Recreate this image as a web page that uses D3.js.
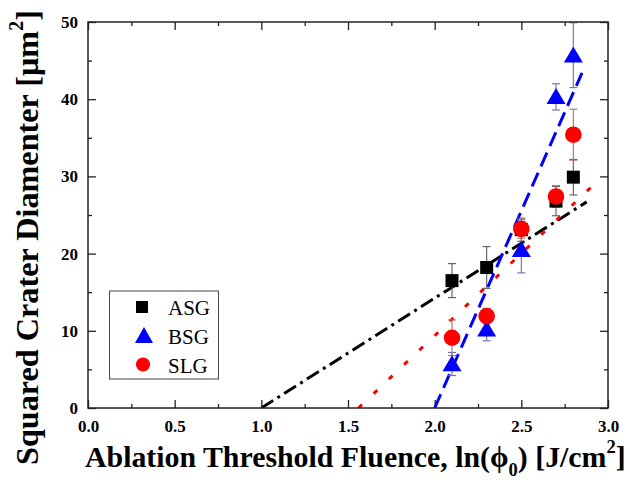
<!DOCTYPE html>
<html>
<head>
<meta charset="utf-8">
<script src="https://cdn.jsdelivr.net/npm/d3@7"></script>
<style>
  html, body { margin: 0; padding: 0; background: #fff; }
  svg { display: block; }
</style>
</head>
<body>
<svg id="chart" width="630" height="480"></svg>
<script>
// Ablation fluence (x) at which each glass was measured
const fluence = [2.1, 2.3, 2.5, 2.7, 2.8];

// Squared crater diameters [µm²] and their error bars
const asgD2  = [16.5, 18.2, 23.1, 26.8, 29.9];
const asgErr = [2.2, 2.7, 1.5, 1.9, 2.3];
const bsgD2  = [5.7, 10.2, 20.5, 40.3, 45.7];
const bsgErr = [1.5, 1.5, 3.0, 1.7, 4.2];
const slgD2  = [9.1, 11.9, 23.2, 27.4, 35.4];
const slgErr = [2.3, 1.0, 1.2, 1.4, 3.3];

// Linear fits: [start, end] points in data units
const asgFit = [[1.0, 0], [2.877, 26.7]];
const bsgFit = [[2.0, 0], [2.85, 43.4]];
const slgFit = [[1.56, 0], [2.945, 29.5]];

// Axis ticks
const xMajor = [0.0, 0.5, 1.0, 1.5, 2.0, 2.5, 3.0];
const xMinor = [0.25, 0.75, 1.25, 1.75, 2.25, 2.75];
const yMajor = [0, 10, 20, 30, 40, 50];
const yMinor = [5, 15, 25, 35, 45];

const seriesNames = ["ASG", "BSG", "SLG"];

const FONT = "Liberation Serif";
const svg = d3.select("#chart");
const L = 88, R = 608, T = 22, B = 408;
const x = d3.scaleLinear().domain([0, 3]).range([L, R]);
const y = d3.scaleLinear().domain([0, 50]).range([B, T]);

const series = [
  { name: seriesNames[0], vals: asgD2, err: asgErr, fit: asgFit,
    color: "#000000", errColor: "#5a5a5a", dash: "14,5,3,5", shape: "square" },
  { name: seriesNames[1], vals: bsgD2, err: bsgErr, fit: bsgFit,
    color: "#0000ff", errColor: "#6a6ab8", dash: "15,7", shape: "triangle" },
  { name: seriesNames[2], vals: slgD2, err: slgErr, fit: slgFit,
    color: "#ff0000", errColor: "#b86a6a", dash: "5,16", shape: "circle" }
];

function symbolPath(shape, cx, cy, k) {
  k = k || 1;
  if (shape === "square") {
    const h = 6.5 * k;
    return `M${cx - h},${cy - h}h${2 * h}v${2 * h}h${-2 * h}Z`;
  }
  if (shape === "triangle") {
    const w = 9.5 * k, h = 16 * k;
    return `M${cx},${cy - h * 0.55}L${cx + w},${cy + h * 0.45}L${cx - w},${cy + h * 0.45}Z`;
  }
  const r = 8.3 * k;
  return `M${cx - r},${cy}a${r},${r} 0 1,0 ${2 * r},0a${r},${r} 0 1,0 ${-2 * r},0Z`;
}

// Fit lines, clipped to the plot frame
svg.append("defs").append("clipPath").attr("id", "plotClip")
  .append("rect").attr("x", L).attr("y", T).attr("width", R - L).attr("height", B - T);

const fitG = svg.append("g").attr("clip-path", "url(#plotClip)");
const lineGen = d3.line().x(d => x(d[0])).y(d => y(d[1]));
series.forEach(s => {
  fitG.append("path")
    .attr("d", lineGen(s.fit))
    .attr("fill", "none")
    .attr("stroke", s.color)
    .attr("stroke-width", 3)
    .attr("stroke-dasharray", s.dash);
});

// Error bars
series.forEach(s => {
  const g = svg.append("g").attr("stroke", s.errColor).attr("stroke-width", 1.1).attr("fill", "none");
  fluence.forEach((fx, i) => {
    const cx = x(fx), y1 = y(s.vals[i] + s.err[i]), y0 = y(s.vals[i] - s.err[i]);
    g.append("line").attr("x1", cx).attr("x2", cx).attr("y1", y1).attr("y2", y0);
    g.append("line").attr("x1", cx - 4).attr("x2", cx + 4).attr("y1", y1).attr("y2", y1);
    g.append("line").attr("x1", cx - 4).attr("x2", cx + 4).attr("y1", y0).attr("y2", y0);
  });
});

// Markers
series.forEach(s => {
  svg.append("g").selectAll("path")
    .data(fluence.map((fx, i) => [fx, s.vals[i]]))
    .join("path")
    .attr("d", d => symbolPath(s.shape, x(d[0]), y(d[1])))
    .attr("fill", s.color);
});

// Frame
svg.append("rect")
  .attr("x", L).attr("y", T).attr("width", R - L).attr("height", B - T)
  .attr("fill", "none").attr("stroke", "#222").attr("stroke-width", 1.5);

// Axes with inward ticks on all four sides
const axisStyle = g => {
  g.select(".domain").remove();
  g.attr("font-family", FONT);
  g.selectAll("line").attr("stroke", "#222").attr("stroke-width", 1.3);
};
const tickText = g => g.selectAll("text")
  .attr("font-family", FONT).attr("font-weight", "bold")
  .attr("font-size", 17).attr("fill", "#000");

svg.append("g").attr("transform", `translate(0,${B})`)
  .call(d3.axisBottom(x).tickValues(xMajor).tickSize(-8).tickPadding(12).tickFormat(d3.format(".1f")))
  .call(axisStyle).call(tickText);
svg.append("g").attr("transform", `translate(0,${B})`)
  .call(d3.axisBottom(x).tickValues(xMinor).tickSize(-4).tickFormat(""))
  .call(axisStyle);
svg.append("g").attr("transform", `translate(0,${T})`)
  .call(d3.axisTop(x).tickValues(xMajor).tickSize(-8).tickFormat(""))
  .call(axisStyle);
svg.append("g").attr("transform", `translate(0,${T})`)
  .call(d3.axisTop(x).tickValues(xMinor).tickSize(-4).tickFormat(""))
  .call(axisStyle);
svg.append("g").attr("transform", `translate(${L},0)`)
  .call(d3.axisLeft(y).tickValues(yMajor).tickSize(-8).tickPadding(10).tickFormat(d3.format("d")))
  .call(axisStyle).call(tickText);
svg.append("g").attr("transform", `translate(${L},0)`)
  .call(d3.axisLeft(y).tickValues(yMinor).tickSize(-4).tickFormat(""))
  .call(axisStyle);
svg.append("g").attr("transform", `translate(${R},0)`)
  .call(d3.axisRight(y).tickValues(yMajor).tickSize(-8).tickFormat(""))
  .call(axisStyle);
svg.append("g").attr("transform", `translate(${R},0)`)
  .call(d3.axisRight(y).tickValues(yMinor).tickSize(-4).tickFormat(""))
  .call(axisStyle);

// Legend
const lg = svg.append("g");
lg.append("rect").attr("x", 109.5).attr("y", 291).attr("width", 109).attr("height", 88)
  .attr("fill", "#fff").attr("stroke", "#444").attr("stroke-width", 1);
const legendSym = [
  (cy) => `M136,${cy - 6}h12v12h-12Z`,
  (cy) => `M144,${cy - 9}L153,${cy + 7}L135,${cy + 7}Z`,
  (cy) => symbolPath("circle", 143, cy - 0.5, 0.85)
];
series.forEach((s, i) => {
  const cy = 307 + i * 29;
  lg.append("path").attr("d", legendSym[i](cy)).attr("fill", s.color);
  lg.append("text").attr("x", 168).attr("y", cy + 8)
    .attr("font-family", FONT).attr("font-size", 21).attr("fill", "#000").text(s.name);
});

// Axis titles
const xt = svg.append("text").attr("x", 85).attr("y", 467)
  .attr("font-family", FONT).attr("font-weight", "bold").attr("font-size", 30).attr("fill", "#000");
xt.append("tspan").text("Ablation Threshold Fluence, ln(\u03D5");
xt.append("tspan").attr("font-size", "0.62em").attr("dy", 9).text("0");
xt.append("tspan").attr("dy", -9).text(") [J/cm");
xt.append("tspan").attr("font-size", "0.62em").attr("dy", -14).text("2");
xt.append("tspan").attr("dy", 14).text("]");

const yt = svg.append("text")
  .attr("transform", "translate(38,465) rotate(-90)")
  .attr("x", 0).attr("y", 0)
  .attr("font-family", FONT).attr("font-weight", "bold").attr("font-size", 32).attr("fill", "#000");
yt.append("tspan").text("Squared Crater Diamenter [\u03BCm");
yt.append("tspan").attr("font-size", "0.62em").attr("dy", -15).text("2");
yt.append("tspan").attr("dy", 15).text("]");

// Scale the titles to their intended extents
function fitWidth(sel, target) {
  const w = sel.node().getComputedTextLength();
  const fs = parseFloat(sel.attr("font-size"));
  sel.attr("font-size", fs * target / w);
}
fitWidth(xt, 541);
fitWidth(yt, 455);
</script>
</body>
</html>
